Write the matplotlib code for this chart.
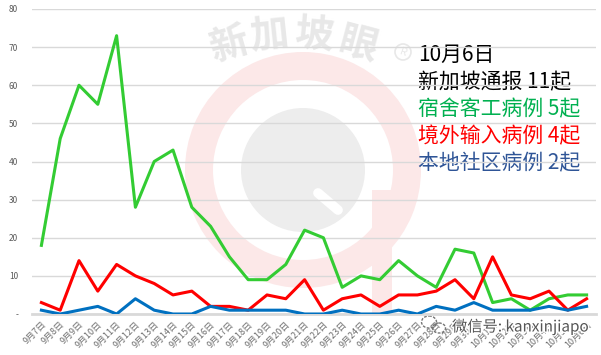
import matplotlib
matplotlib.use("Agg")
from matplotlib import pyplot as plt
from matplotlib.patches import Circle, Wedge, Ellipse, Rectangle
import matplotlib.patheffects as pe

plt.rcParams['font.family'] = ['Noto Sans CJK SC', 'DejaVu Sans']

# 数据: 9月7日 - 10月6日
dates = ['9月%d日' % d for d in range(7, 31)] + ['10月%d日' % d for d in range(1, 7)]
dorm = [18, 46, 60, 55, 73, 28, 40, 43, 28, 23, 15, 9, 9, 13, 22,
        20, 7, 10, 9, 14, 10, 7, 17, 16, 3, 4, 1, 4, 5, 5]
imported = [3, 1, 14, 6, 13, 10, 8, 5, 6, 2, 2, 1, 5, 4, 9,
            1, 4, 5, 2, 5, 5, 6, 9, 4, 15, 5, 4, 6, 1, 4]
community = [1, 0, 1, 2, 0, 4, 1, 0, 0, 2, 1, 1, 1, 1, 0,
             0, 1, 0, 0, 1, 0, 2, 1, 3, 1, 1, 1, 2, 1, 2]
y_ticks = [0, 10, 20, 30, 40, 50, 60, 70, 80]
y_labels = ['-', '10', '20', '30', '40', '50', '60', '70', '80']

summary = [('10月6日', '#000000'),
           ('新加坡通报 11起', '#000000'),
           ('宿舍客工病例 5起', '#00B050'),
           ('境外输入病例 4起', '#FF0000'),
           ('本地社区病例 2起', '#2F5597')]

fig = plt.figure(figsize=(6.01, 3.55), dpi=100)

# 水印 (像素坐标)
bg = fig.add_axes([0, 0, 1, 1])
bg.set_xlim(0, 601)
bg.set_ylim(355, 0)
bg.axis('off')
cx, cy = 303, 170
bg.add_patch(Wedge((cx, cy), 118, 0, 360, width=28, color='#FCE8E8', lw=0))
bg.add_patch(Rectangle((372, 190), 20, 125, color='#FCE8E8', lw=0))
bg.add_patch(Circle((cx, cy), 62, color='#EDEDED', lw=0))
bg.plot([318, 338], [193, 210], color='white', lw=7, solid_capstyle='round')
for ch, x, y, r in [('新', 230, 45, 16), ('加', 269, 35, 6), ('坡', 314, 35, -5),
                    ('眼', 358, 45, -15)]:
    bg.text(x, y, ch, fontsize=28, fontweight='bold', color='#E8E8E8',
            ha='center', va='center', rotation=r)
bg.add_patch(Circle((403, 52), 8, fill=False, ec='#E8E8E8', lw=1.2))
bg.text(403, 52, 'R', fontsize=8, color='#E8E8E8', ha='center', va='center', rotation=-20)

ax = fig.add_axes([32 / 601, 1 - 314 / 355, 564 / 601, 305 / 355])
ax.patch.set_alpha(0)
x = range(len(dates))
ax.plot(x, dorm, color='#33CC33', lw=2.2, zorder=3)
ax.plot(x, imported, color='#FF0000', lw=2.2, zorder=3)
ax.plot(x, community, color='#0070C0', lw=2.2, zorder=3)

ax.set_xlim(-0.5, len(dates) - 0.5)
ax.set_ylim(0, 80)
ax.set_yticks(y_ticks)
ax.set_yticklabels(y_labels, fontsize=6, color='#595959')
ax.set_xticks(list(x))
ax.set_xticklabels(dates, fontsize=6.5, color='#6E6E6E', rotation=45,
                   ha='right', va='top', rotation_mode='anchor')
ax.tick_params(length=0, pad=10, axis='y')
ax.tick_params(length=0, pad=4, axis='x')
ax.grid(axis='y', color='#D9D9D9', lw=1)
for s in ['top', 'right', 'left']:
    ax.spines[s].set_visible(False)
ax.spines['bottom'].set_color('#D9D9D9')
ax.spines['bottom'].set_linewidth(2)

for i, (t, c) in enumerate(summary):
    bg.text(418, 55 + i * 27, t, fontsize=15, color=c, ha='left', va='center')

# 微信号
bg.add_patch(Ellipse((429, 322), 15, 12, fill=False, ec='#777777', lw=1, ls=(0, (2, 1))))
bg.add_patch(Ellipse((439, 328), 13, 10, fill=False, ec='#777777', lw=1, ls=(0, (2, 1))))
bg.set_zorder(0)
ax.set_zorder(1)
fig.text(452 / 601, 1 - 327 / 355, '微信号: kanxinjiapo', fontsize=11, color='#555555',
         ha='left', va='center', zorder=10,
         path_effects=[pe.withStroke(linewidth=2, foreground='white')])

fig.savefig('out.png', dpi=100)
